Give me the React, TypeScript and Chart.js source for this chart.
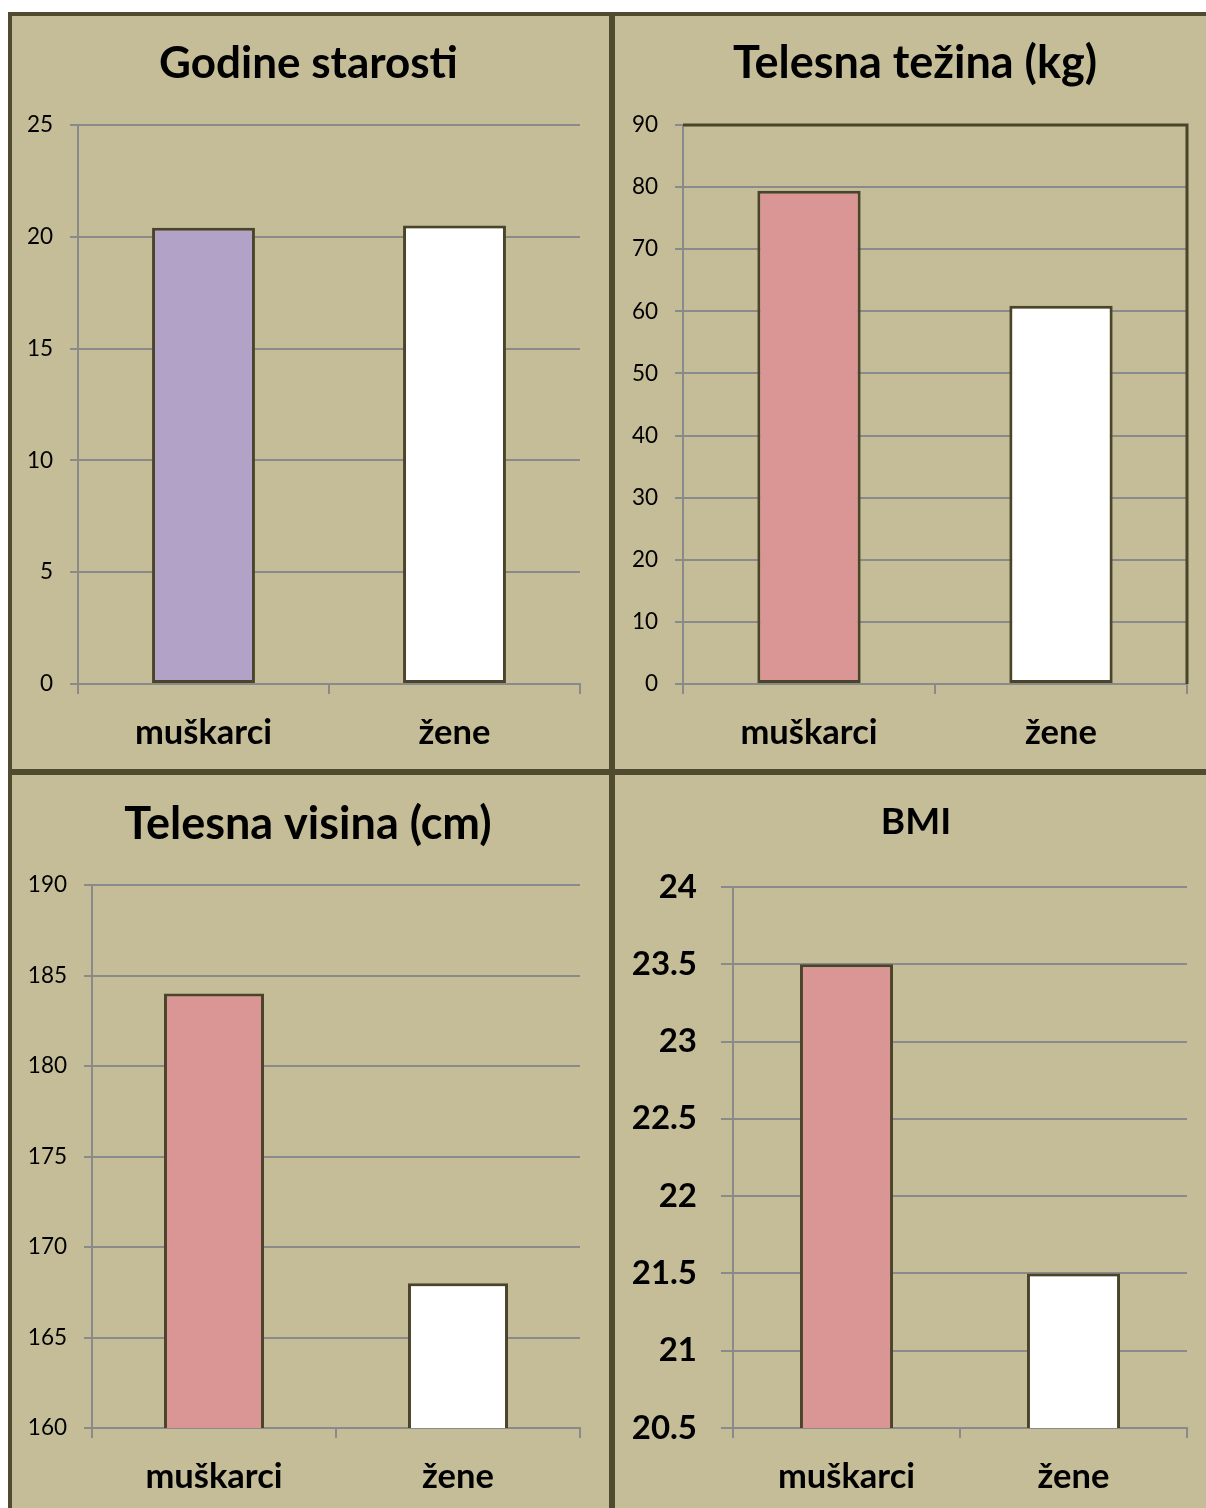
import React, { useEffect, useRef } from "react";
import { Chart, registerables } from "chart.js";

Chart.register(...registerables);

// ---- data ----
const categories = ["muškarci", "žene"];

const ageValues = [20.4, 20.5];
const weightValues = [79.4, 60.9];
const heightValues = [184, 168];
const bmiValues = [23.5, 21.5];

const ageTicks = [0, 5, 10, 15, 20, 25];
const weightTicks = [0, 10, 20, 30, 40, 50, 60, 70, 80, 90];
const heightTicks = [160, 165, 170, 175, 180, 185, 190];
const bmiTicks = [20.5, 21, 21.5, 22, 22.5, 23, 23.5, 24];

const ageColors = ["#b3a2c7", "#ffffff"];
const menWomenColors = ["#d99694", "#ffffff"];

// ---- styles ----
const FONT = "Lato, 'Open Sans', sans-serif";
const PANEL_BG = "#c4bd97";
const FRAME = "#4f4a30";
const BAR_EDGE = "#4a452a";
const GRID = "#8a8a8a";

type Box = { left: number; right: number; top: number; bottom: number };

type PanelSpec = {
  title: string;
  titleSize: number;
  titleMid: number; // vertical centre of the title line, canvas px
  titleCenter: number; // horizontal centre of the title, canvas px
  values: number[];
  colors: string[];
  ticks: number[];
  x: number;
  y: number;
  w: number;
  h: number;
  plot: Box;
  tickFont: { size: number; weight: string };
  tickLength: number;
  tickPadding: number;
  boxed?: boolean;
};

// draws the dark top/right edge of the plot frame
const plotFrame = {
  id: "plotFrame",
  afterDraw(chart: any, _args: any, opts: any) {
    if (!opts || !opts.enabled) return;
    const { ctx, chartArea } = chart;
    ctx.save();
    ctx.strokeStyle = BAR_EDGE;
    ctx.lineWidth = 3;
    ctx.beginPath();
    ctx.moveTo(chartArea.left, chartArea.top);
    ctx.lineTo(chartArea.right, chartArea.top);
    ctx.lineTo(chartArea.right, chartArea.bottom);
    ctx.stroke();
    ctx.restore();
  },
};

function buildConfig(spec: PanelSpec): any {
  const lh = 1.2;
  const padTop = spec.titleMid - (spec.titleSize * lh) / 2;
  const padBottom = spec.plot.top - spec.titleSize * lh - padTop;
  const tickMin = spec.ticks[0];
  const tickMax = spec.ticks[spec.ticks.length - 1];

  // side padding positions the (full-width) title horizontally
  const diff = 2 * spec.titleCenter - spec.w;
  const padLeft = Math.max(0, diff);
  const padRight = Math.max(0, -diff);
  const rightGap = spec.w - padRight - spec.plot.right;

  return {
    type: "bar",
    data: {
      labels: categories,
      datasets: [
        {
          data: spec.values,
          backgroundColor: spec.colors,
          borderColor: BAR_EDGE,
          borderWidth: 3,
          borderSkipped: false,
          barPercentage: 0.41,
          categoryPercentage: 1,
        },
      ],
    },
    plugins: [plotFrame],
    options: {
      responsive: false,
      animation: false,
      events: [],
      layout: {
        padding: { left: padLeft, right: padRight, top: 0, bottom: 0 },
      },
      plugins: {
        legend: { display: false },
        tooltip: { enabled: false },
        plotFrame: { enabled: !!spec.boxed },
        title: {
          display: true,
          text: spec.title,
          color: "#000000",
          font: { family: FONT, size: spec.titleSize, weight: "bold", lineHeight: lh },
          padding: { top: padTop, bottom: padBottom },
        },
      },
      scales: {
        x: {
          type: "category",
          offset: true,
          grid: {
            offset: true,
            drawOnChartArea: false,
            drawTicks: true,
            tickLength: 10,
            color: GRID,
            lineWidth: 2,
          },
          border: { color: GRID, width: 2 },
          ticks: {
            color: "#000000",
            font: { family: FONT, size: 34.5, weight: "bold" },
            padding: 18,
            maxRotation: 0,
            autoSkip: false,
          },
          afterFit: (s: any) => {
            s.height = spec.h - spec.plot.bottom;
          },
        },
        y: {
          type: "linear",
          min: tickMin,
          max: tickMax,
          grid: {
            color: GRID,
            lineWidth: 2,
            drawTicks: true,
            tickLength: spec.tickLength,
          },
          border: { color: GRID, width: 2 },
          afterBuildTicks: (s: any) => {
            s.ticks = spec.ticks.map((v) => ({ value: v }));
          },
          ticks: {
            color: "#000000",
            font: { family: FONT, size: spec.tickFont.size, weight: spec.tickFont.weight },
            padding: spec.tickPadding,
            callback: (v: any) => String(v),
          },
          afterFit: (s: any) => {
            s.width = spec.plot.left - padLeft;
          },
        },
        // empty spacer on the right side of the plot
        spacer: {
          type: "linear",
          position: "right",
          display: true,
          grid: { display: false },
          border: { display: false },
          ticks: { display: false },
          afterFit: (s: any) => {
            s.width = rightGap;
          },
        },
      },
    },
  };
}

const panels: PanelSpec[] = [
  {
    title: "Godine starosti",
    titleSize: 44,
    titleMid: 48,
    titleCenter: 296.5,
    values: ageValues,
    colors: ageColors,
    ticks: ageTicks,
    x: 12, y: 16, w: 597, h: 753,
    plot: { left: 66, right: 568, top: 109, bottom: 668 },
    tickFont: { size: 22.5, weight: "normal" },
    tickLength: 8,
    tickPadding: 17,
  },
  {
    title: "Telesna težina (kg)",
    titleSize: 45,
    titleMid: 47.5,
    titleCenter: 300,
    values: weightValues,
    colors: menWomenColors,
    ticks: weightTicks,
    x: 615, y: 16, w: 591, h: 753,
    plot: { left: 68, right: 572, top: 109, bottom: 668 },
    tickFont: { size: 22.5, weight: "normal" },
    tickLength: 8,
    tickPadding: 17,
    boxed: true,
  },
  {
    title: "Telesna visina (cm)",
    titleSize: 45,
    titleMid: 49,
    titleCenter: 296,
    values: heightValues,
    colors: menWomenColors,
    ticks: heightTicks,
    x: 12, y: 775, w: 597, h: 733,
    plot: { left: 80, right: 568, top: 110, bottom: 653 },
    tickFont: { size: 22.5, weight: "normal" },
    tickLength: 8,
    tickPadding: 17,
  },
  {
    title: "BMI",
    titleSize: 37,
    titleMid: 47,
    titleCenter: 301,
    values: bmiValues,
    colors: menWomenColors,
    ticks: bmiTicks,
    x: 615, y: 775, w: 591, h: 733,
    plot: { left: 118, right: 572, top: 112, bottom: 653 },
    tickFont: { size: 33, weight: "bold" },
    tickLength: 12,
    tickPadding: 24,
  },
];

function Panel({ spec }: { spec: PanelSpec }) {
  const ref = useRef<HTMLCanvasElement>(null);
  useEffect(() => {
    const chart = new Chart(ref.current as HTMLCanvasElement, buildConfig(spec));
    return () => chart.destroy();
  }, [spec]);
  return (
    <canvas
      ref={ref}
      width={spec.w}
      height={spec.h}
      style={{
        position: "absolute",
        left: spec.x,
        top: spec.y,
        width: spec.w,
        height: spec.h,
        display: "block",
      }}
    />
  );
}

export default function App() {
  const abs = (l: number, t: number, w: number, h: number, bg: string): React.CSSProperties => ({
    position: "absolute",
    left: l,
    top: t,
    width: w,
    height: h,
    background: bg,
  });
  return (
    <div style={{ position: "absolute", left: 0, top: 0, width: 1206, height: 1508, background: "#ffffff", overflow: "hidden" }}>
      <div style={abs(12, 16, 1194, 1492, PANEL_BG)} />
      {panels.map((p, i) => (
        <Panel key={i} spec={p} />
      ))}
      {/* outer frame and dividers */}
      <div style={abs(8, 12, 1198, 4, FRAME)} />
      <div style={abs(8, 12, 4, 1496, FRAME)} />
      <div style={abs(609, 12, 6, 1496, FRAME)} />
      <div style={abs(8, 769, 1198, 6, FRAME)} />
    </div>
  );
}
